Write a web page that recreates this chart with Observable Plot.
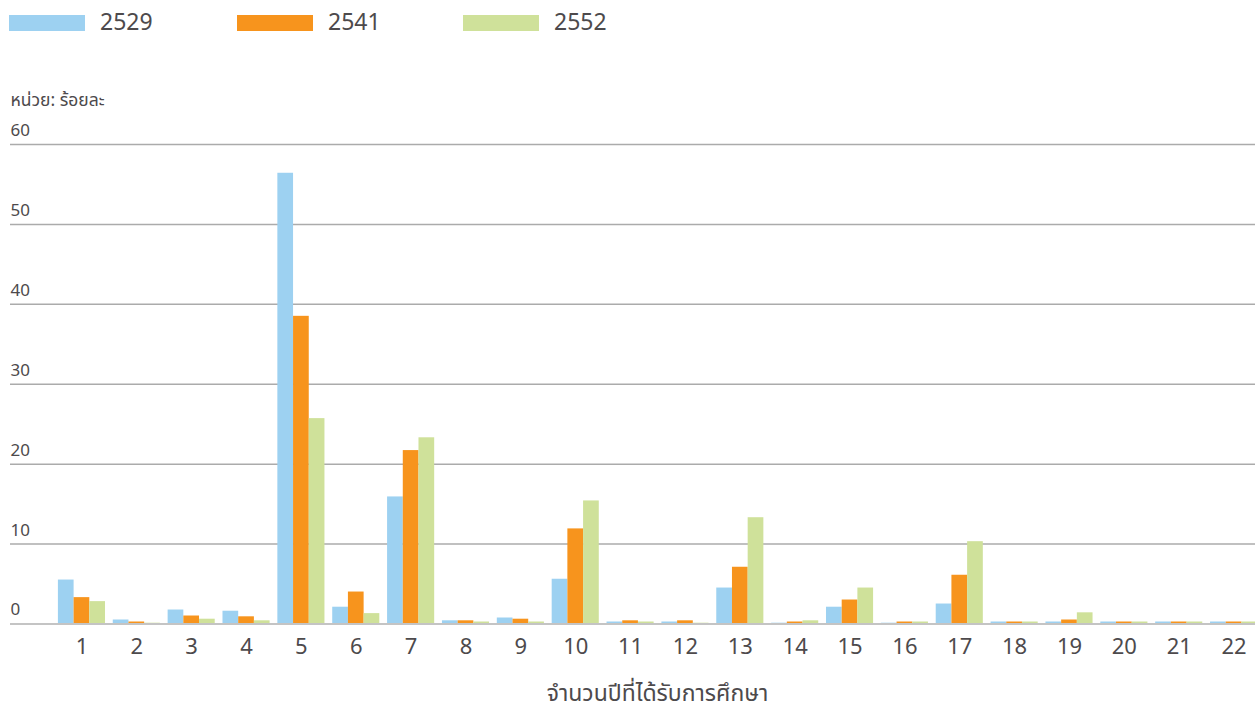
<!DOCTYPE html>
<html>
<head>
<meta charset="utf-8">
<script src="https://cdn.jsdelivr.net/npm/d3@7"></script>
<script src="https://cdn.jsdelivr.net/npm/@observablehq/plot@0.6"></script>
<style>
  html, body { margin: 0; padding: 0; background: #fff; overflow: hidden; }
  body { width: 1255px; height: 711px; font-family: "Noto Sans Thai", "Noto Sans", "DejaVu Sans", sans-serif; color: #4d4a4c; }
  #legend { position: relative; height: 46px; }
  .item { position: absolute; top: 0; height: 46px; }
  .sw { position: absolute; top: 15px; width: 76px; height: 16px; }
  .lb { position: absolute; top: 9px; font-size: 23px; line-height: 28px; white-space: nowrap; }
</style>
</head>
<body>
<div id="legend"></div>
<div id="chart"></div>
<script>
const categories = [1, 2, 3, 4, 5, 6, 7, 8, 9, 10, 11, 12, 13, 14, 15, 16, 17, 18, 19, 20, 21, 22];
const years = ["2529", "2541", "2552"];
const v2529 = [5.5, 0.5, 1.75, 1.6, 56.4, 2.1, 15.9, 0.4, 0.75, 5.6, 0.25, 0.25, 4.5, 0.1, 2.1, 0.1, 2.5, 0.25, 0.25, 0.25, 0.25, 0.25];
const v2541 = [3.3, 0.25, 1.0, 0.9, 38.5, 4.0, 21.7, 0.4, 0.6, 11.9, 0.4, 0.4, 7.1, 0.25, 3.0, 0.25, 6.1, 0.25, 0.5, 0.25, 0.25, 0.25];
const v2552 = [2.8, 0.1, 0.6, 0.4, 25.7, 1.3, 23.3, 0.25, 0.25, 15.4, 0.25, 0.1, 13.3, 0.4, 4.5, 0.25, 10.3, 0.25, 1.4, 0.25, 0.25, 0.25];
const colors = ["#9dd1f1", "#f7941d", "#cfe19a"];
const yTicks = [0, 10, 20, 30, 40, 50, 60];
const yUnitLabel = "หน่วย: ร้อยละ";
const xTitle = "จำนวนปีที่ได้รับการศึกษา";

const series = [v2529, v2541, v2552];
const rows = [];
years.forEach((yr, i) => categories.forEach((c, j) => rows.push({cat: c, year: yr, value: series[i][j]})));

// legend
const legend = document.getElementById("legend");
const legendX = [9, 237, 463];
years.forEach((yr, i) => {
  const it = document.createElement("div");
  it.className = "item";
  it.style.left = legendX[i] + "px";
  it.innerHTML = `<div class="sw" style="left:0;background:${colors[i]}"></div><div class="lb" style="left:91px">${yr}</div>`;
  legend.appendChild(it);
});

const xRange = [54, 1261];
const step = (xRange[1] - xRange[0]) / categories.length;
const barW = 15.7, groupPad = 3.9;
const textColor = "#4d4a4c";

const barMarks = years.map((yr, i) => Plot.barY(rows.filter(r => r.year === yr), {
  x: "cat", y: "value", fill: colors[i],
  insetLeft: groupPad + barW * i,
  insetRight: step - groupPad - barW * (i + 1)
}));

const chart = Plot.plot({
  width: 1255,
  height: 665,
  marginTop: 98,
  marginBottom: 87.5,
  marginLeft: 10,
  marginRight: 0,
  style: {fontFamily: '"Noto Sans Thai", "Noto Sans", "DejaVu Sans", sans-serif', color: textColor, background: "#fff"},
  x: {type: "band", domain: categories, range: xRange, padding: 0, round: false},
  y: {domain: [0, 60], ticks: yTicks},
  marks: [
    Plot.ruleY(yTicks, {stroke: "#ababab", strokeWidth: 1.5}),
    ...barMarks,
    Plot.ruleY([0], {stroke: "#c4c4c4", strokeWidth: 2}),
    Plot.text(yTicks, {y: d => d, text: d => String(d), frameAnchor: "left", textAnchor: "start", lineAnchor: "middle", dy: -14, fontSize: 17, fill: textColor}),
    Plot.axisX({tickSize: 0, tickPadding: 14, fontSize: 22, label: null, fill: textColor}),
    Plot.axisY({ticks: [], label: null, tickSize: 0}),
    Plot.text([yUnitLabel], {frameAnchor: "top-left", textAnchor: "start", lineAnchor: "middle", dy: -44, fontSize: 17.5, fill: textColor}),
    Plot.text([xTitle], {frameAnchor: "bottom", lineAnchor: "middle", dy: 70, dx: 24.5, fontSize: 23, fill: textColor})
  ]
});
document.getElementById("chart").appendChild(chart);
</script>
</body>
</html>
